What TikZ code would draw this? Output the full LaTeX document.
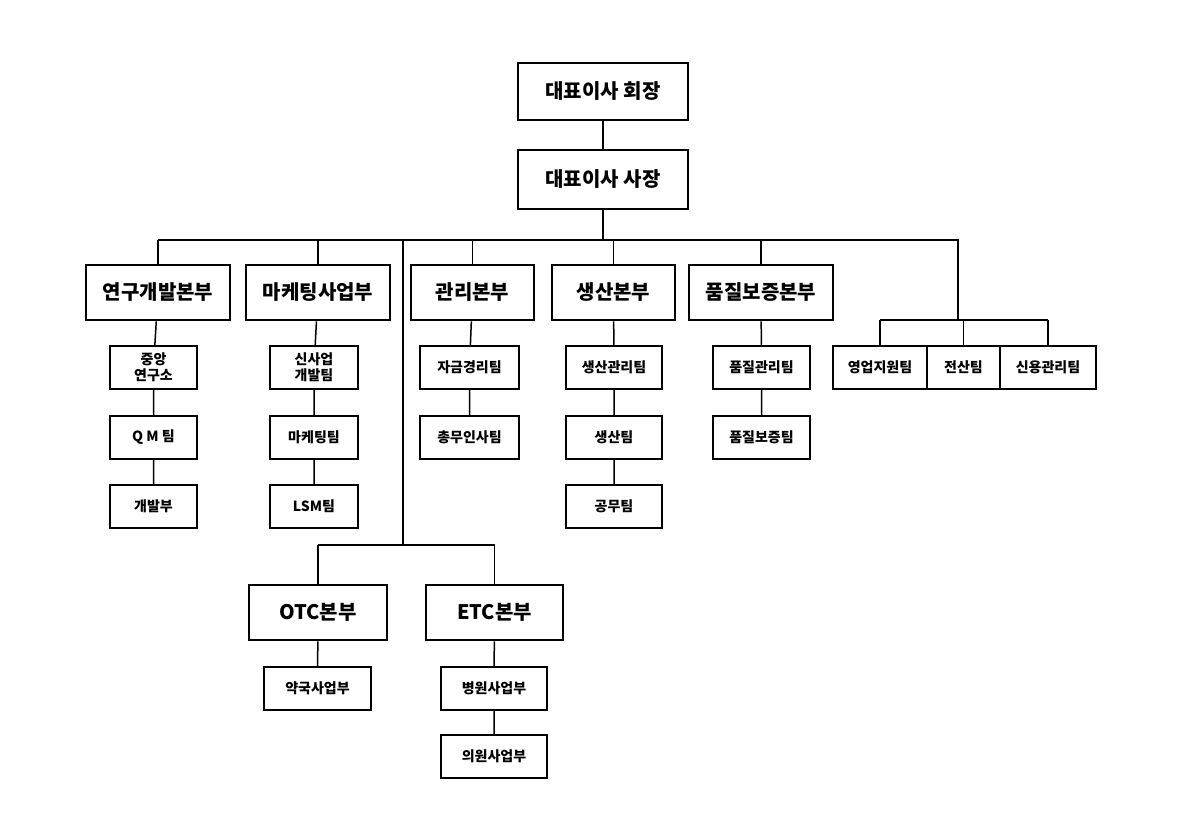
\documentclass[tikz,border=0pt]{standalone}
\usepackage{fontspec}
\setmainfont{Noto Sans CJK KR}
\begin{document}
\begin{tikzpicture}[x=1pt,y=-1pt,
  big/.style={draw,line width=2.6pt,font=\bfseries\fontsize{20}{22}\selectfont,inner sep=0pt,align=center},
  small/.style={draw,line width=1.6pt,font=\bfseries\fontsize{14}{16}\selectfont,inner sep=0pt,align=center},
  ln/.style={line width=1.5pt}]
\useasboundingbox (0,0) rectangle (1181,835);
\newcommand{\bx}[7]{\node[#1,minimum width=#4-#3,minimum height=#6-#5] (#2) at ({(#3+#4)/2},{(#5+#6)/2}) {#7};}
\bx{big}{ceo}{518}{688}{63}{120}{대표이사 회장}
\bx{big}{pres}{518}{688}{150}{209}{대표이사 사장}
\bx{big}{rd}{86}{230}{265}{320}{연구개발본부}
\bx{big}{mk}{246}{390}{265}{320}{마케팅사업부}
\bx{big}{gm}{411}{534}{265}{320}{관리본부}
\bx{big}{pr}{552}{675}{265}{320}{생산본부}
\bx{big}{qa}{689}{833}{265}{320}{품질보증본부}
\bx{small}{sa}{833}{927}{346}{389}{영업지원팀}
\bx{small}{it}{927}{1000}{346}{389}{전산팀}
\bx{small}{cr}{1000}{1096}{346}{389}{신용관리팀}
\bx{small}{rd1}{110}{197}{346}{389}{중앙\\연구소}
\bx{small}{rd2}{110}{197}{416}{459}{Q M 팀}
\bx{small}{rd3}{110}{197}{485}{528}{개발부}
\bx{small}{mk1}{270}{358}{346}{389}{신사업\\개발팀}
\bx{small}{mk2}{270}{358}{416}{459}{마케팅팀}
\bx{small}{mk3}{270}{358}{485}{528}{LSM팀}
\bx{small}{gm1}{420}{519}{346}{389}{자금경리팀}
\bx{small}{gm2}{420}{519}{416}{459}{총무인사팀}
\bx{small}{pr1}{566}{662}{346}{389}{생산관리팀}
\bx{small}{pr2}{566}{662}{416}{459}{생산팀}
\bx{small}{pr3}{566}{662}{485}{528}{공무팀}
\bx{small}{qa1}{713}{810}{346}{389}{품질관리팀}
\bx{small}{qa2}{713}{810}{416}{459}{품질보증팀}
\bx{big}{otc}{249}{387}{585}{640}{OTC본부}
\bx{big}{etc}{426}{563}{585}{640}{ETC본부}
\bx{small}{otc1}{264}{371}{667}{710}{약국사업부}
\bx{small}{etc1}{441}{547}{667}{710}{병원사업부}
\bx{small}{etc2}{441}{547}{735}{778}{의원사업부}
\coordinate (bl) at (158,240); \coordinate (br) at (958,240);
\coordinate (sb) at (958,320);
\coordinate (m) at (403,240); \coordinate (m2) at (403,545);
\draw[ln] (ceo) -- (pres);
\draw[ln] (pres.south) -- (pres.south|-bl);
\draw[ln] (bl) -- (br) -- (sb);
\foreach \n in {rd,mk,gm,pr,qa} \draw[ln] (\n.north|-bl) -- (\n.north);
\draw[ln] (sa.north|-sb) -- (cr.north|-sb);
\foreach \n in {sa,it,cr} \draw[ln] (\n.north|-sb) -- (\n.north);
\draw[ln] (rd) -- (rd1) -- (rd2) -- (rd3);
\draw[ln] (mk) -- (mk1) -- (mk2) -- (mk3);
\draw[ln] (gm) -- (gm1) -- (gm2);
\draw[ln] (pr) -- (pr1) -- (pr2) -- (pr3);
\draw[ln] (qa) -- (qa1) -- (qa2);
\draw[ln] (m) -- (m2);
\draw[ln] (otc.north|-m2) -- (otc.north);
\draw[ln] (etc.north|-m2) -- (etc.north);
\draw[ln] (otc.north|-m2) -- (etc.north|-m2);
\draw[ln] (otc) -- (otc1);
\draw[ln] (etc) -- (etc1) -- (etc2);
\end{tikzpicture}
\end{document}
